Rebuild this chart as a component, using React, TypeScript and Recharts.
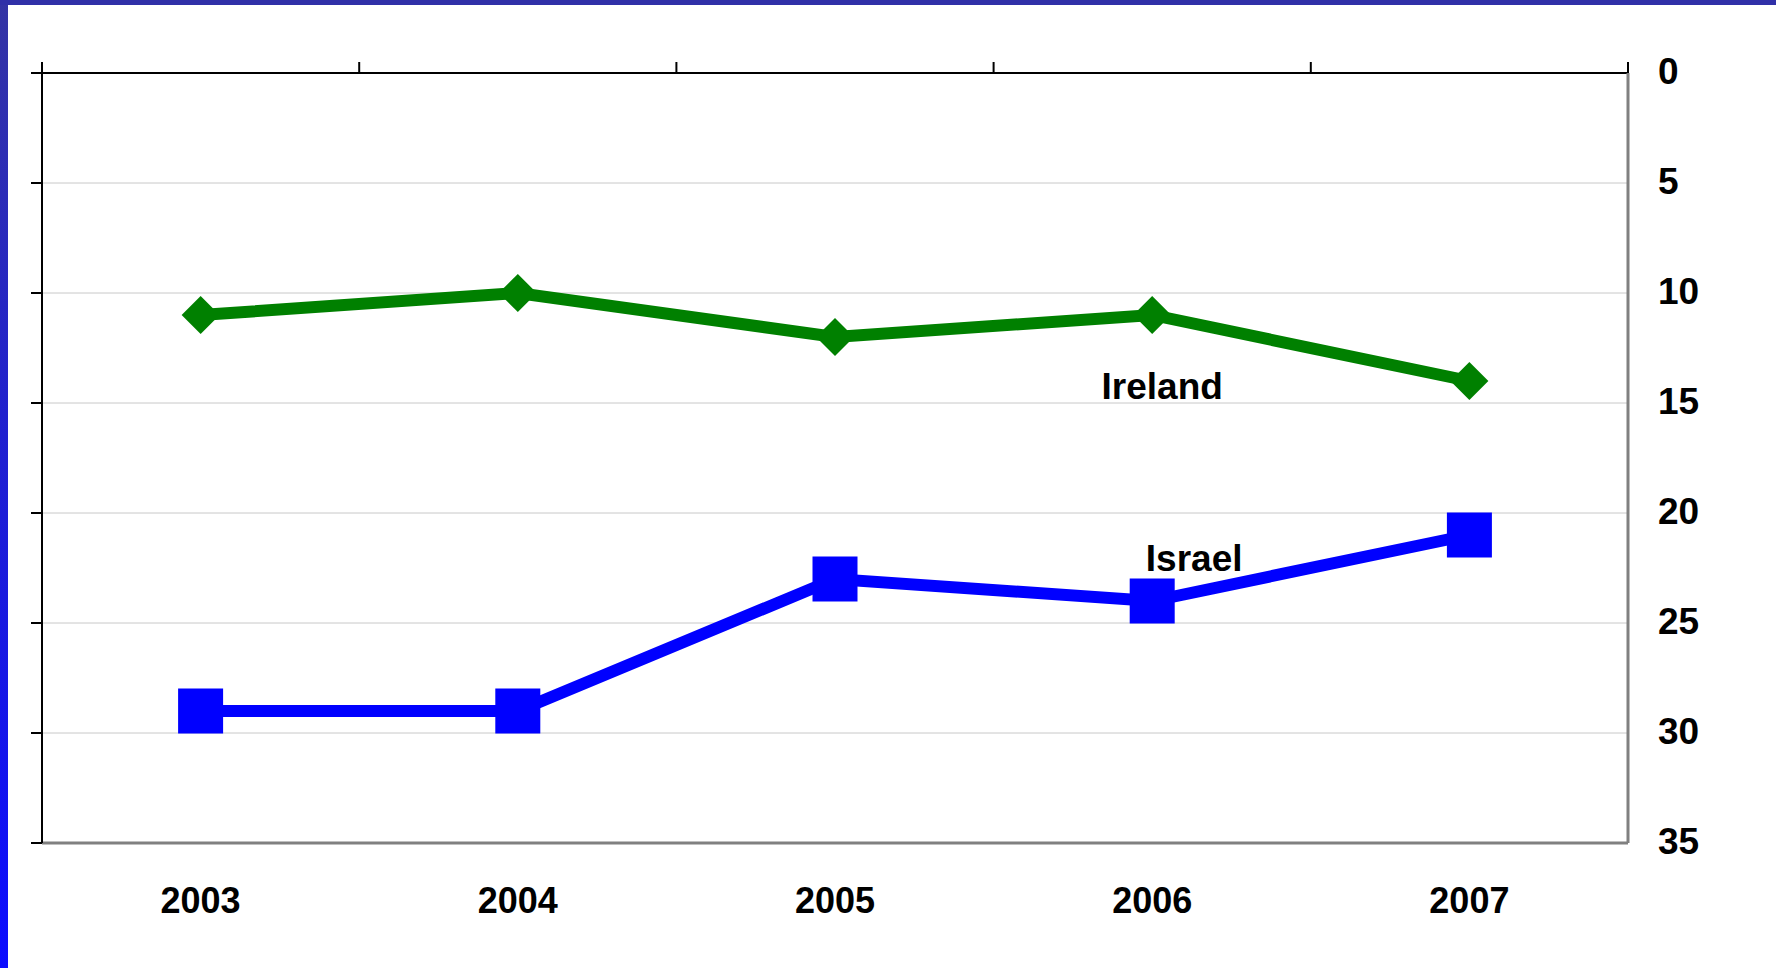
import React from "react";
import { LineChart, Line, XAxis, YAxis, CartesianGrid, ReferenceDot } from "recharts";

const years = ["2003", "2004", "2005", "2006", "2007"];
const ireland = [11, 10, 12, 11, 14];
const israel = [29, 29, 23, 24, 21];
const rankTicks = [0, 5, 10, 15, 20, 25, 30, 35];

const data = years.map((year, i) => ({ year, ireland: ireland[i], israel: israel[i] }));

const FONT = "'Liberation Sans', Arial, sans-serif";

// short outward tick on the left axis, no label
const LeftTick = (props: any) => {
  const { x, y } = props;
  return <line x1={x - 11} x2={x} y1={y} y2={y} stroke="#000" strokeWidth={2} />;
};

// tick marks sit on the category boundaries, not the centres
const BoundaryTick = (props: any) => {
  const { x, y, payload, index, visibleTicksCount } = props;
  const half = payload && payload.offset ? payload.offset : 158.6;
  const len = 11;
  return (
    <g>
      <line x1={x - half} x2={x - half} y1={y - len} y2={y} stroke="#000" strokeWidth={2} />
      {index === visibleTicksCount - 1 && (
        <line x1={x + half} x2={x + half} y1={y - len} y2={y} stroke="#000" strokeWidth={2} />
      )}
    </g>
  );
};

const Diamond = (props: any) => {
  const { cx, cy, index } = props;
  const r = 19;
  return (
    <polygon
      key={`dia-${index}`}
      points={`${cx},${cy - r} ${cx + r},${cy} ${cx},${cy + r} ${cx - r},${cy}`}
      fill="#008000"
    />
  );
};

const Square = (props: any) => {
  const { cx, cy, index } = props;
  const s = 45;
  return <rect key={`sq-${index}`} x={cx - s / 2} y={cy - s / 2} width={s} height={s} fill="#0000ff" />;
};

export default function App() {
  return (
    <div
      style={{
        position: "fixed",
        top: 0,
        left: 0,
        width: 1776,
        height: 968,
        background: "#fff",
        fontFamily: FONT,
        overflow: "hidden",
      }}
    >
      <div
        style={{
          position: "absolute",
          left: 0,
          top: 0,
          width: 8,
          height: 968,
          background: "linear-gradient(#3434a4, #2020d0 45%, #0c0cff)",
        }}
      />
      <div style={{ position: "absolute", left: 0, top: 0, width: 1776, height: 5, background: "#3030a8" }} />
      <div style={{ position: "absolute", left: 0, top: 0 }}>
        <LineChart width={1776} height={968} data={data} margin={{ top: 63, right: 0, bottom: 0, left: 0 }}>
          <CartesianGrid vertical={false} stroke="#c8c8c8" xAxisId="bottom" yAxisId="right" />
          <XAxis
            xAxisId="bottom"
            dataKey="year"
            orientation="bottom"
            scale="band"
            height={125}
            interval={0}
            axisLine={{ stroke: "#808080", strokeWidth: 3 }}
            tickLine={false}
            tickSize={0}
            tickMargin={44}
            tick={{ fill: "#000", fontSize: 36, fontWeight: "bold", fontFamily: FONT }}
          />
          <XAxis
            xAxisId="top"
            dataKey="year"
            orientation="top"
            scale="band"
            height={10}
            interval={0}
            tick={BoundaryTick}
            tickLine={false}
            tickSize={0}
            tickMargin={0}
            axisLine={{ stroke: "#000", strokeWidth: 2 }}
          />
          <YAxis
            yAxisId="left"
            orientation="left"
            type="number"
            width={42}
            domain={[0, 35]}
            allowDataOverflow
            reversed
            ticks={rankTicks}
            interval={0}
            tick={LeftTick}
            tickLine={false}
            tickSize={0}
            tickMargin={0}
            axisLine={{ stroke: "#000", strokeWidth: 2 }}
          />
          <YAxis
            yAxisId="right"
            orientation="right"
            type="number"
            width={148}
            domain={[0, 35]}
            allowDataOverflow
            reversed
            ticks={rankTicks}
            interval={0}
            axisLine={{ stroke: "#808080", strokeWidth: 3 }}
            tickLine={false}
            tickSize={0}
            tickMargin={30}
            tick={{ fill: "#000", fontSize: 37, fontWeight: "bold", fontFamily: FONT, dy: -2 }}
          />
          <Line
            xAxisId="bottom"
            yAxisId="right"
            type="linear"
            dataKey="ireland"
            stroke="#008000"
            strokeWidth={12}
            dot={Diamond}
            activeDot={false}
            isAnimationActive={false}
          />
          <Line
            xAxisId="bottom"
            yAxisId="right"
            type="linear"
            dataKey="israel"
            stroke="#0000ff"
            strokeWidth={12}
            dot={Square}
            activeDot={false}
            isAnimationActive={false}
          />
          <ReferenceDot
            xAxisId="bottom"
            yAxisId="right"
            x="2006"
            y={14.2}
            r={1}
            fill="none"
            stroke="none"
            label={{ value: "Ireland", position: "center", dx: 10, fill: "#000", fontSize: 37, fontWeight: "bold", fontFamily: FONT }}
          />
          <ReferenceDot
            xAxisId="bottom"
            yAxisId="right"
            x="2006"
            y={22.03}
            r={1}
            fill="none"
            stroke="none"
            label={{ value: "Israel", position: "center", dx: 42, fill: "#000", fontSize: 37, fontWeight: "bold", fontFamily: FONT }}
          />
        </LineChart>
      </div>
    </div>
  );
}
